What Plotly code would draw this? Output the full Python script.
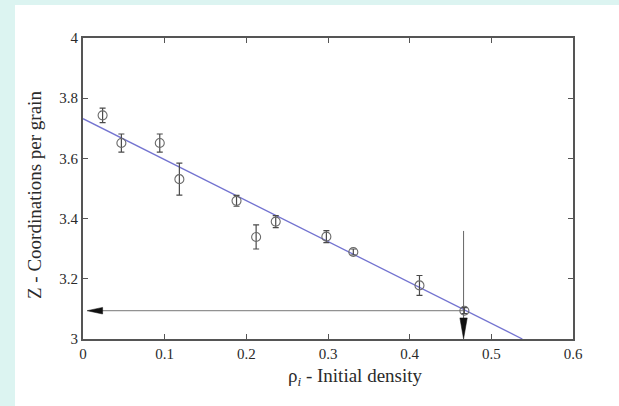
import plotly.graph_objects as go

# ---- data ----
rho = [0.024, 0.047, 0.094, 0.118, 0.188, 0.212, 0.236, 0.298, 0.331, 0.412, 0.467]
z = [3.743, 3.651, 3.651, 3.531, 3.459, 3.339, 3.390, 3.340, 3.289, 3.178, 3.094]
z_err = [0.024, 0.030, 0.030, 0.053, 0.018, 0.040, 0.020, 0.020, 0.010, 0.033, 0.010]

fit_x = [0.0, 0.538]
fit_y = [3.732, 3.0]

# arrow marking the last point
arrow_x = 0.467
arrow_y = 3.094
arrow_top = 3.359
arrow_left = 0.005

x_ticks = [0, 0.1, 0.2, 0.3, 0.4, 0.5, 0.6]
y_ticks = [3, 3.2, 3.4, 3.6, 3.8, 4]

FONT = "Liberation Serif"
GRAY = "#555555"

fig = go.Figure()

# fit line
fig.add_trace(go.Scatter(x=fit_x, y=fit_y, mode="lines",
                         line=dict(color="#7373d0", width=1.3),
                         hoverinfo="skip", showlegend=False))

# horizontal and vertical arrow shafts
fig.add_trace(go.Scatter(x=[arrow_x, arrow_left + 0.015], y=[arrow_y, arrow_y], mode="lines",
                         line=dict(color="#777777", width=1), showlegend=False))
fig.add_trace(go.Scatter(x=[arrow_x - 0.001, arrow_x - 0.001], y=[arrow_top, 3.06], mode="lines",
                         line=dict(color="#666666", width=1), showlegend=False))

# arrow heads (filled triangles derived from arrow values)
hx_len = 0.019   # ~15 px
hy_half = 0.011  # ~3 px
fig.add_trace(go.Scatter(
    x=[arrow_left, arrow_left + hx_len, arrow_left + hx_len, arrow_left],
    y=[arrow_y, arrow_y + hy_half, arrow_y - hy_half, arrow_y],
    mode="lines", fill="toself", fillcolor="#111111",
    line=dict(color="#111111", width=0.5), showlegend=False))
vy_len = 0.07     # ~21 px
vx_half = 0.0045  # ~3.5 px
ax0 = arrow_x - 0.001
fig.add_trace(go.Scatter(
    x=[ax0, ax0 - vx_half, ax0 + vx_half, ax0],
    y=[3.0, 3.0 + vy_len, 3.0 + vy_len, 3.0],
    mode="lines", fill="toself", fillcolor="#111111",
    line=dict(color="#111111", width=0.5), showlegend=False))

# data points with error bars
fig.add_trace(go.Scatter(
    x=rho, y=z, mode="markers",
    marker=dict(symbol="circle-open", size=9, color="#6a6a6a", line=dict(width=1.1)),
    error_y=dict(type="data", array=z_err, visible=True, color="#4a4a4a",
                 thickness=1.2, width=3),
    showlegend=False))

# white panel over the cyan page
fig.add_shape(type="rect", xref="paper", yref="paper",
              x0=(15 - 83) / 490, x1=(630 - 83) / 490,
              y0=(339 - 420) / 301, y1=(339 - 5) / 301,
              fillcolor="white", line=dict(width=0), layer="below")

axis_common = dict(
    showgrid=False, zeroline=False, showline=True, mirror="ticks",
    linecolor=GRAY, linewidth=2, ticks="inside", ticklen=5,
    tickcolor=GRAY, tickwidth=1,
    tickfont=dict(family=FONT, size=15, color="#2a2a2a"),
)

fig.update_xaxes(range=[0, 0.6], tickvals=x_ticks,
                 ticktext=[f"{v:g}" for v in x_ticks], **axis_common)
fig.update_yaxes(range=[3, 4], tickvals=y_ticks,
                 ticktext=[f"{v:g}" for v in y_ticks], **axis_common)

# axis titles as annotations for exact placement
fig.add_annotation(text="ρ<sub><i>i</i></sub> - Initial density",
                   xref="paper", yref="paper",
                   x=(355 - 83) / 490, y=(339 - 377) / 301,
                   showarrow=False, xanchor="center", yanchor="middle",
                   font=dict(family=FONT, size=19, color="#2a2a2a"))
fig.add_annotation(text="Z - Coordinations per grain",
                   xref="paper", yref="paper",
                   x=(34 - 83) / 490, y=(339 - 195) / 301,
                   textangle=-90, showarrow=False,
                   xanchor="center", yanchor="middle",
                   font=dict(family=FONT, size=19, color="#2a2a2a"))

fig.update_layout(
    width=619, height=406,
    margin=dict(l=83, r=46, t=38, b=67),
    paper_bgcolor="#dcf4f1",
    plot_bgcolor="white",
    showlegend=False,
)

fig.write_html("out.html",
               config={"displayModeBar": False},
               post_script="document.body.style.margin='0';document.body.style.overflow='hidden';")
